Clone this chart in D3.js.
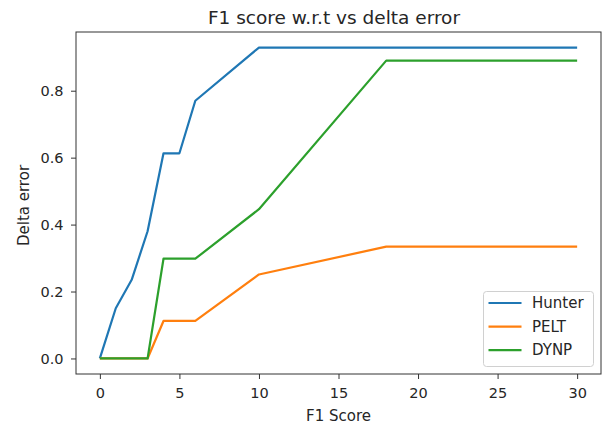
<!DOCTYPE html>
<html>
<head>
<meta charset="utf-8">
<script src="https://cdn.jsdelivr.net/npm/d3@7"></script>
<style>
  body { margin: 0; background: #fff; }
  text { font-family: "DejaVu Sans", sans-serif; fill: #262626; }
</style>
</head>
<body>
<svg id="chart"></svg>
<script>
const width = 602;
const height = 425;

// delta values on the x axis
const deltas = [0, 1, 2, 3, 4, 5, 6, 10, 18, 30];
const hunter = [0, 0.15, 0.235, 0.38, 0.613, 0.613, 0.77, 0.929, 0.929, 0.929];
const pelt = [0, 0, 0, 0, 0.112, 0.112, 0.112, 0.251, 0.334, 0.334];
const dynp = [0, 0, 0, 0, 0.298, 0.298, 0.298, 0.446, 0.89, 0.89];
const seriesNames = ["Hunter", "PELT", "DYNP"];
const colors = ["#1f77b4", "#ff7f0e", "#2ca02c"];
const xTicks = [0, 5, 10, 15, 20, 25, 30];
const yTicks = [0, 0.2, 0.4, 0.6, 0.8];

const series = [hunter, pelt, dynp].map((vals, i) => ({
    name: seriesNames[i],
    color: colors[i],
    points: vals.map((v, j) => ({ x: deltas[j], y: v }))
}));

const margin = { top: 32, right: 1, bottom: 51, left: 76 };
const innerW = width - margin.left - margin.right;
const innerH = height - margin.top - margin.bottom;

const svg = d3.select("#chart").attr("width", width).attr("height", height);

// matplotlib-style 5% margins around the data
const xPad = (d3.max(deltas) - d3.min(deltas)) * 0.05;
const yMax = d3.max(hunter);
const yPad = yMax * 0.05;

const x = d3.scaleLinear()
    .domain([d3.min(deltas) - xPad, d3.max(deltas) + xPad])
    .range([0, innerW]);
const y = d3.scaleLinear()
    .domain([-yPad, yMax + yPad])
    .range([innerH, 0]);

const g = svg.append("g").attr("transform", `translate(${margin.left},${margin.top})`);

const line = d3.line().x(d => x(d.x)).y(d => y(d.y));

g.selectAll(".series")
    .data(series)
    .enter()
    .append("path")
    .attr("class", "series")
    .attr("fill", "none")
    .attr("stroke", d => d.color)
    .attr("stroke-width", 2.2)
    .attr("stroke-linejoin", "round")
    .attr("d", d => line(d.points));

// axes
const xAxis = g.append("g")
    .attr("transform", `translate(0,${innerH})`)
    .call(d3.axisBottom(x).tickValues(xTicks).tickFormat(d3.format("d")).tickSize(5).tickPadding(8.5));
const yAxis = g.append("g")
    .call(d3.axisLeft(y).tickValues(yTicks).tickFormat(d3.format(".1f")).tickSize(5).tickPadding(7.5));

[xAxis, yAxis].forEach(a => {
    a.select(".domain").remove();
    a.selectAll(".tick line").attr("stroke", "#333").attr("stroke-width", 1);
    a.selectAll(".tick text").style("font-size", "14.5px").attr("fill", "#262626");
});

// frame
g.append("rect")
    .attr("x", 0).attr("y", 0)
    .attr("width", innerW).attr("height", innerH)
    .attr("fill", "none")
    .attr("stroke", "#333")
    .attr("stroke-width", 1);

// title and labels
svg.append("text")
    .attr("x", 334)
    .attr("y", 24)
    .attr("text-anchor", "middle")
    .style("font-size", "18.5px")
    .text("F1 score w.r.t vs delta error");

svg.append("text")
    .attr("x", margin.left + innerW / 2)
    .attr("y", 421)
    .attr("text-anchor", "middle")
    .style("font-size", "15px")
    .text("F1 Score");

svg.append("text")
    .attr("transform", `translate(29,205.5) rotate(-90)`)
    .attr("text-anchor", "middle")
    .style("font-size", "15px")
    .text("Delta error");

// legend
const legend = g.append("g")
    .attr("transform", `translate(${innerW - 117.5},${innerH - 82.5})`);

legend.append("rect")
    .attr("width", 110).attr("height", 75)
    .attr("rx", 3)
    .attr("fill", "#fff").attr("fill-opacity", 0.8)
    .attr("stroke", "#d0d0d0").attr("stroke-width", 1);

const items = legend.selectAll(".item")
    .data(series)
    .enter()
    .append("g")
    .attr("class", "item")
    .attr("transform", (d, i) => `translate(0,${11.5 + i * 23.6})`);

items.append("line")
    .attr("x1", 5).attr("x2", 38)
    .attr("stroke", d => d.color)
    .attr("stroke-width", 2.2);

items.append("text")
    .attr("x", 48.5)
    .attr("dy", "0.35em")
    .style("font-size", "15px")
    .text(d => d.name);
</script>
</body>
</html>
